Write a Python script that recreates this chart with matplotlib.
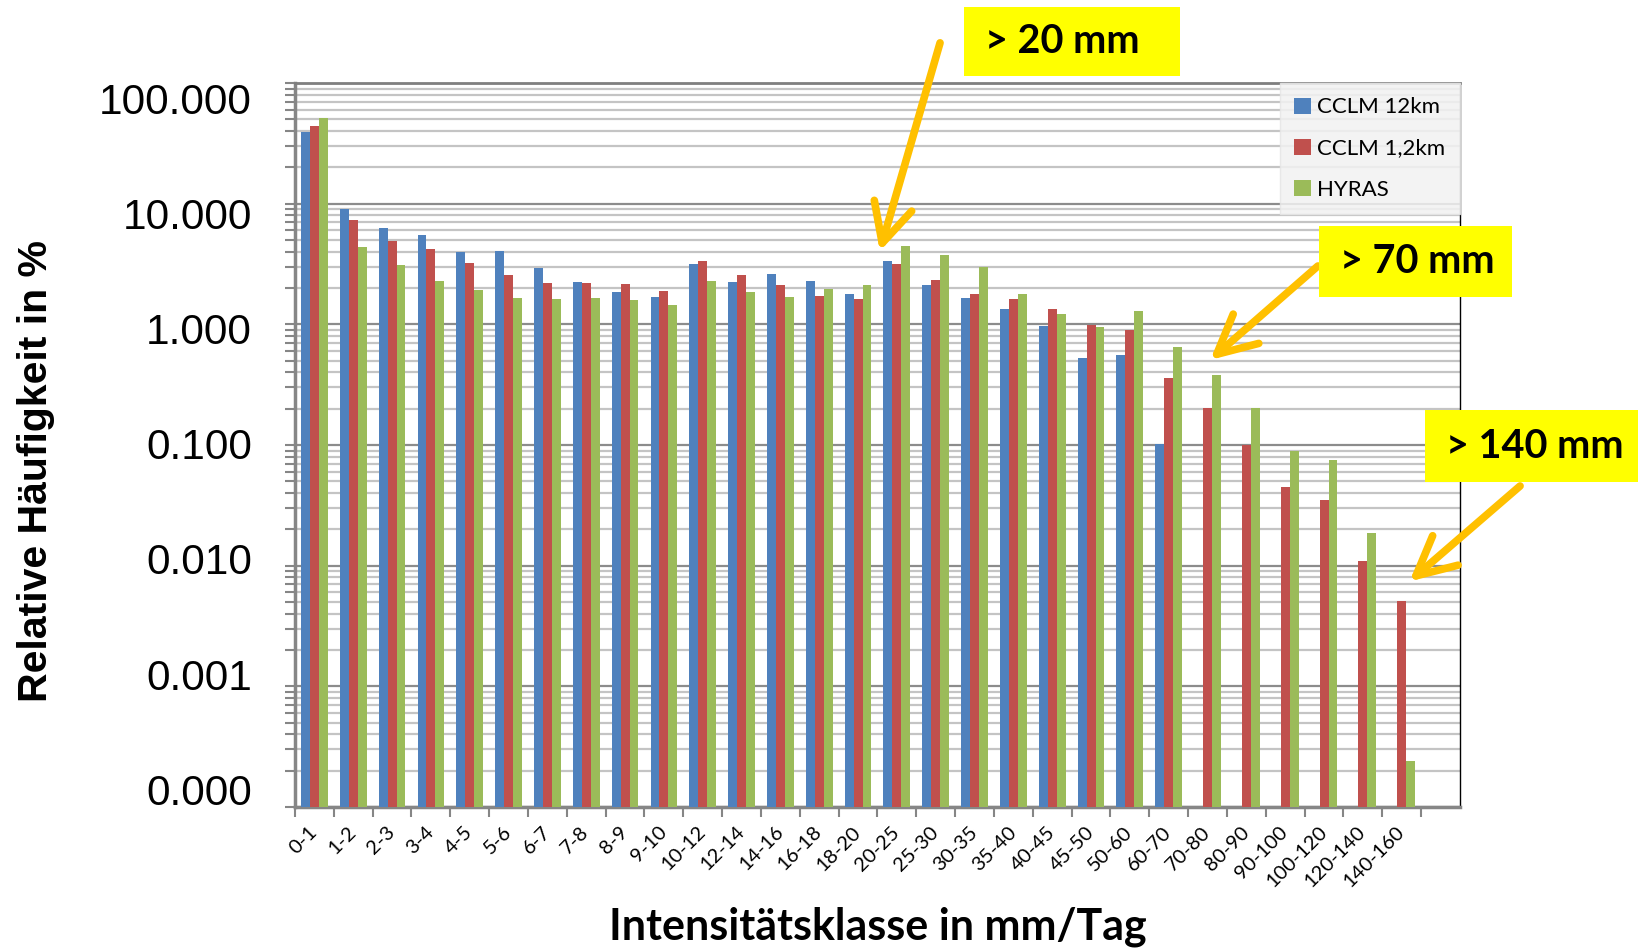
import numpy as np
import matplotlib
matplotlib.use('Agg')
import matplotlib.pyplot as plt
from matplotlib.patches import Rectangle
from matplotlib.ticker import LogLocator, NullFormatter
from matplotlib.transforms import ScaledTranslation

plt.rcParams['font.family'] = ['Lato', 'DejaVu Sans']

nan = np.nan

# intensity classes (last slot is an empty category, as in the original chart)
classes = ['0-1', '1-2', '2-3', '3-4', '4-5', '5-6', '6-7', '7-8', '8-9', '9-10',
           '10-12', '12-14', '14-16', '16-18', '18-20', '20-25', '25-30', '30-35',
           '35-40', '40-45', '45-50', '50-60', '60-70', '70-80', '80-90', '90-100',
           '100-120', '120-140', '140-160', '']

cclm_12 = [39.1, 9.1, 6.25, 5.47, 3.96, 4.03, 2.92, 2.25, 1.85, 1.69,
           3.19, 2.25, 2.61, 2.29, 1.80, 3.32, 2.10, 1.65, 1.33, 0.96,
           0.53, 0.557, 0.102, nan, nan, nan, nan, nan, nan, nan]
cclm_1_2 = [44.4, 7.3, 4.91, 4.19, 3.23, 2.55, 2.19, 2.19, 2.14, 1.88,
            3.32, 2.55, 2.10, 1.72, 1.62, 3.17, 2.31, 1.80, 1.62, 1.33,
            0.98, 0.90, 0.358, 0.203, 0.0993, 0.0452, 0.0348, 0.0109, 0.00514, nan]
hyras = [51.7, 4.41, 3.13, 2.29, 1.92, 1.65, 1.62, 1.65, 1.59, 1.45,
         2.29, 1.84, 1.69, 1.97, 2.10, 4.50, 3.79, 2.99, 1.77, 1.22,
         0.955, 1.29, 0.649, 0.381, 0.203, 0.0885, 0.0746, 0.0185, 0.000241, nan]

ytick_vals = [1e-4, 1e-3, 1e-2, 1e-1, 1, 10, 100]
ytick_labels = ['0.000', '0.001', '0.010', '0.100', '1.000', '10.000', '100.000']

# callouts: label, box (figure fraction), arrow tail (figure fraction), arrow tip (data)
callouts = [
    ('> 20 mm', (0.5885, 0.9202, 0.1319, 0.0725), (0.5739, 0.9550), (14.56, 4.03)),
    ('> 70 mm', (0.8053, 0.6880, 0.1178, 0.0746), (0.8046, 0.7206), (23.07, 0.507)),
    ('> 140 mm', (0.8700, 0.4937, 0.1300, 0.0756), (0.9280, 0.4895), (28.2, 0.0074)),
]

fig = plt.figure(figsize=(16.38, 9.52), dpi=100)
ax = fig.add_axes([0.1801, 0.1523, 0.7112, 0.7605])
ax.set_yscale('log')

x = np.arange(len(classes))
w = 0.23
ax.bar(x - w, cclm_12, w, color='#4F81BD', label='CCLM 12km', zorder=3)
ax.bar(x, cclm_1_2, w, color='#C0504D', label='CCLM 1,2km', zorder=3)
ax.bar(x + w, hyras, w, color='#9BBB59', label='HYRAS', zorder=3)

ax.set_xlim(-0.5, len(classes) - 0.5)
ax.set_ylim(1e-4, 100)

# grid
ax.set_axisbelow(True)
ax.yaxis.set_minor_locator(LogLocator(base=10, subs=np.arange(2, 10)))
ax.yaxis.set_minor_formatter(NullFormatter())
ax.yaxis.grid(True, which='major', color='#8c8c8c', lw=1.6)
ax.yaxis.grid(True, which='minor', color='#c4c4c4', lw=1.6)

ax.set_yticks(ytick_vals)
ax.set_yticklabels(ytick_labels, family=['Liberation Sans', 'DejaVu Sans'], fontsize=30.5)
ax.tick_params(axis='y', which='both', length=7, width=1.5, color='#868686', pad=24)
# the labels in the original sit on a slightly tighter spacing than the gridlines
for i, lab in enumerate(ax.get_yticklabels()):
    shift = (-17.7 + 5.5 * i) / 100.0
    lab.set_transform(lab.get_transform() + ScaledTranslation(0, -shift, fig.dpi_scale_trans))

# category boundaries as ticks, labels at centres
ax.set_xticks(np.arange(-0.5, len(classes) - 1, 1))
ax.set_xticklabels([])
ax.set_xticks(x[:-1], classes[:-1], minor=True)
ax.tick_params(axis='x', which='major', length=7, width=1.5, color='#868686')
ax.tick_params(axis='x', which='minor', length=0, pad=16, labelsize=14.5)
for lab in ax.get_xticklabels(minor=True):
    lab.set_rotation(45)
    lab.set_ha('right')
    lab.set_va('center')
    lab.set_rotation_mode('anchor')

for side in ['left', 'bottom']:
    ax.spines[side].set_color('#868686')
    ax.spines[side].set_linewidth(2.5)
ax.spines['top'].set_color('#7f7f7f')
ax.spines['top'].set_linewidth(2)
ax.spines['right'].set_color('black')
ax.spines['right'].set_linewidth(1)

leg = ax.legend(loc='upper right', bbox_to_anchor=(1, 1), borderaxespad=0,
                fontsize=16, frameon=True, fancybox=False, facecolor='#f2f2f2',
                edgecolor='#e6e6e6', framealpha=0.85, handlelength=0.75,
                handleheight=0.75, handletextpad=0.3, labelspacing=0.95,
                borderpad=0.65)

fig.text(0.0217, 0.505, 'Relative Häufigkeit in %', rotation=90, ha='center', va='center',
         fontsize=29.5, fontweight='bold', family=['Liberation Sans', 'DejaVu Sans'])
fig.text(0.5357, 0.026, 'Intensitätsklasse in mm/Tag', ha='center', va='center',
         fontsize=31, fontweight='bold')

for label, (bx, by, bw, bh), tail, tip in callouts:
    fig.patches.append(Rectangle((bx, by), bw, bh, transform=fig.transFigure,
                                 facecolor='#FFFF00', edgecolor='none', zorder=5))
    fig.text(bx + 0.0128, by + bh / 2, label, ha='left', va='center',
             fontsize=28.5, fontweight='bold', zorder=6)
    ax.annotate('', xy=tip, xycoords='data', xytext=tail, textcoords='figure fraction',
                arrowprops=dict(arrowstyle='->,head_length=1.4,head_width=0.7',
                                color='#FFC000', lw=5.5, mutation_scale=20,
                                shrinkA=0, shrinkB=0), zorder=6, annotation_clip=False)

fig.savefig('out.png', dpi=100)
